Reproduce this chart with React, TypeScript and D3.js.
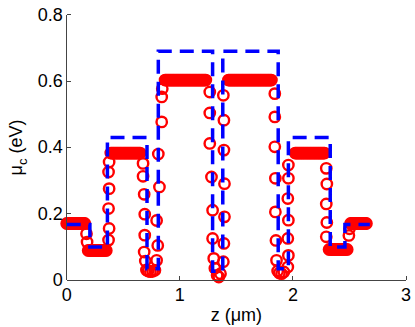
import React from 'react';
import * as d3 from 'd3';

const W = 415;
const H = 327;

// designed profile (blue dashed), step corners
const designZ = [0, 0.205, 0.205, 0.36, 0.36, 0.71, 0.71, 0.81, 0.81, 1.29, 1.29, 1.38, 1.38, 1.87, 1.87, 1.96, 1.96, 2.33, 2.33, 2.46, 2.46, 2.68];
const designMu = [0.168, 0.168, 0.1, 0.1, 0.43, 0.43, 0.035, 0.035, 0.69, 0.69, 0.027, 0.027, 0.69, 0.69, 0.035, 0.035, 0.43, 0.43, 0.1, 0.1, 0.168, 0.168];

// sampled profile (red circles): flat runs, z positions + level
const flatOuterLeftZ = [0, 0.01, 0.02, 0.03, 0.04, 0.05, 0.06, 0.07, 0.08, 0.09, 0.1, 0.11, 0.12, 0.13, 0.14, 0.15, 0.16];
const flatLowLeftZ = [0.19, 0.2, 0.21, 0.22, 0.23, 0.24, 0.25, 0.26, 0.27, 0.28, 0.29, 0.3, 0.31, 0.32, 0.33, 0.34, 0.35];
const flatMidLeftZ = [0.39, 0.4, 0.41, 0.42, 0.43, 0.44, 0.45, 0.46, 0.47, 0.48, 0.49, 0.5, 0.51, 0.52, 0.53, 0.54, 0.55, 0.56, 0.57, 0.58, 0.59, 0.6, 0.61, 0.62, 0.63, 0.64, 0.65];
const flatTopLeftZ = [0.87, 0.88, 0.89, 0.9, 0.91, 0.92, 0.93, 0.94, 0.95, 0.96, 0.97, 0.98, 0.99, 1.0, 1.01, 1.02, 1.03, 1.04, 1.05, 1.06, 1.07, 1.08, 1.09, 1.1, 1.11, 1.12, 1.13, 1.14, 1.15, 1.16, 1.17, 1.18, 1.19, 1.2, 1.21, 1.22, 1.23];
const flatTopRightZ = [1.43, 1.44, 1.45, 1.46, 1.47, 1.48, 1.49, 1.5, 1.51, 1.52, 1.53, 1.54, 1.55, 1.56, 1.57, 1.58, 1.59, 1.6, 1.61, 1.62, 1.63, 1.64, 1.65, 1.66, 1.67, 1.68, 1.69, 1.7, 1.71, 1.72, 1.73, 1.74, 1.75, 1.76, 1.77, 1.78, 1.79, 1.8, 1.81];
const flatMidRightZ = [2.02, 2.03, 2.04, 2.05, 2.06, 2.07, 2.08, 2.09, 2.1, 2.11, 2.12, 2.13, 2.14, 2.15, 2.16, 2.17, 2.18, 2.19, 2.2, 2.21, 2.22, 2.23, 2.24, 2.25, 2.26, 2.27, 2.28];
const flatLowRightZ = [2.32, 2.33, 2.34, 2.35, 2.36, 2.37, 2.38, 2.39, 2.4, 2.41, 2.42, 2.43, 2.44, 2.45, 2.46, 2.47, 2.48];
const flatOuterRightZ = [2.51, 2.52, 2.53, 2.54, 2.55, 2.56, 2.57, 2.58, 2.59, 2.6, 2.61, 2.62, 2.63, 2.64, 2.65];
const flatLevels = [0.171, 0.09, 0.383, 0.603, 0.603, 0.383, 0.093, 0.171];

// sampled profile (red circles): transitions, [z, mu]
const edgePoints: [number, number][] = [
  [0.175, 0.14], [0.18, 0.115],
  [0.37, 0.121], [0.375, 0.156], [0.37, 0.216], [0.375, 0.276], [0.37, 0.326], [0.375, 0.356],
  [0.675, 0.352], [0.675, 0.313], [0.685, 0.259], [0.69, 0.199], [0.69, 0.136], [0.685, 0.085], [0.695, 0.058], [0.705, 0.031],
  [0.72, 0.028], [0.74, 0.026], [0.76, 0.027], [0.78, 0.03],
  [0.795, 0.06], [0.805, 0.105], [0.795, 0.18], [0.82, 0.281], [0.81, 0.38], [0.84, 0.477], [0.84, 0.552], [0.845, 0.577],
  [1.265, 0.567], [1.265, 0.504], [1.265, 0.412], [1.28, 0.311], [1.29, 0.211], [1.29, 0.126], [1.3, 0.066], [1.31, 0.036],
  [1.33, 0.015], [1.345, 0.01], [1.36, 0.02],
  [1.385, 0.056], [1.39, 0.111], [1.395, 0.191], [1.395, 0.291], [1.39, 0.392], [1.39, 0.482], [1.385, 0.557],
  [1.84, 0.562], [1.84, 0.492], [1.84, 0.402], [1.845, 0.307], [1.845, 0.206], [1.85, 0.12], [1.855, 0.06], [1.865, 0.028],
  [1.88, 0.022], [1.9, 0.02], [1.92, 0.025],
  [1.955, 0.04], [1.96, 0.075], [1.955, 0.126], [1.96, 0.181], [1.955, 0.246], [1.96, 0.307], [1.96, 0.347],
  [2.295, 0.337], [2.3, 0.29], [2.295, 0.23], [2.3, 0.174], [2.295, 0.131],
  [2.495, 0.135], [2.5, 0.155],
];

const xTicks = [0, 1, 2, 3];
const xTickLabels = ['0', '1', '2', '3'];
const yTicks = [0, 0.2, 0.4, 0.6, 0.8];
const yTickLabels = ['0', '0.2', '0.4', '0.6', '0.8'];

const FONT = '"Liberation Sans", Arial, Helvetica, sans-serif';

export default function App() {
  const x = d3.scaleLinear().domain([0, 3]).range([66.7, 406]);
  const y = d3.scaleLinear().domain([0, 0.8]).range([280.3, 14.6]);

  const flats = [flatOuterLeftZ, flatLowLeftZ, flatMidLeftZ, flatTopLeftZ, flatTopRightZ, flatMidRightZ, flatLowRightZ, flatOuterRightZ];
  const red: [number, number][] = [
    ...flats.flatMap((zs, k) => zs.map(z => [z, flatLevels[k]] as [number, number])),
    ...edgePoints,
  ];
  const design = designZ.map((z, i) => [z, designMu[i]] as [number, number]);
  const line = d3.line<[number, number]>().x(d => x(d[0])).y(d => y(d[1]));

  const x0 = x(0);
  const y0 = y(0);

  return (
    <svg width={W} height={H} style={{ position: 'absolute', left: 0, top: 0, background: '#fff' }} fontFamily={FONT}>
      {/* red sampled points */}
      <g fill="none" stroke="#ff0000" strokeWidth={2.4}>
        {red.map((d, i) => (
          <circle key={i} cx={x(d[0])} cy={y(d[1])} r={5.2} />
        ))}
      </g>
      {/* blue design profile */}
      <path d={line(design) ?? ''} fill="none" stroke="#0000ff" strokeWidth={3.5} strokeDasharray="14,8" />

      {/* axes */}
      <g stroke="#444" strokeWidth={1} shapeRendering="crispEdges">
        <line x1={x0} x2={x0} y1={y(0.8)} y2={y0} />
        <line x1={x0} x2={x(3)} y1={y0} y2={y0} />
        {yTicks.map(t => (
          <line key={'yt' + t} x1={x0} x2={x0 + 4} y1={y(t)} y2={y(t)} />
        ))}
        {xTicks.map(t => (
          <line key={'xt' + t} x1={x(t)} x2={x(t)} y1={y0} y2={y0 - 4} />
        ))}
      </g>
      <g fontSize={18} fill="#000">
        {yTicks.map((t, i) => (
          <text key={'yl' + t} x={x0 - 4} y={y(t)} textAnchor="end" dominantBaseline="central">
            {yTickLabels[i]}
          </text>
        ))}
        {xTicks.map((t, i) => (
          <text key={'xl' + t} x={x(t)} y={y0 + 21} textAnchor="middle">
            {xTickLabels[i]}
          </text>
        ))}
        <text x={(x(0) + x(3)) / 2} y={321} textAnchor="middle">z (μm)</text>
        <text transform={`translate(22,${(y(0) + y(0.8)) / 2}) rotate(-90)`} textAnchor="middle">
          μ<tspan fontSize={13} dy={5}>c</tspan><tspan dy={-5}> (eV)</tspan>
        </text>
      </g>
    </svg>
  );
}
